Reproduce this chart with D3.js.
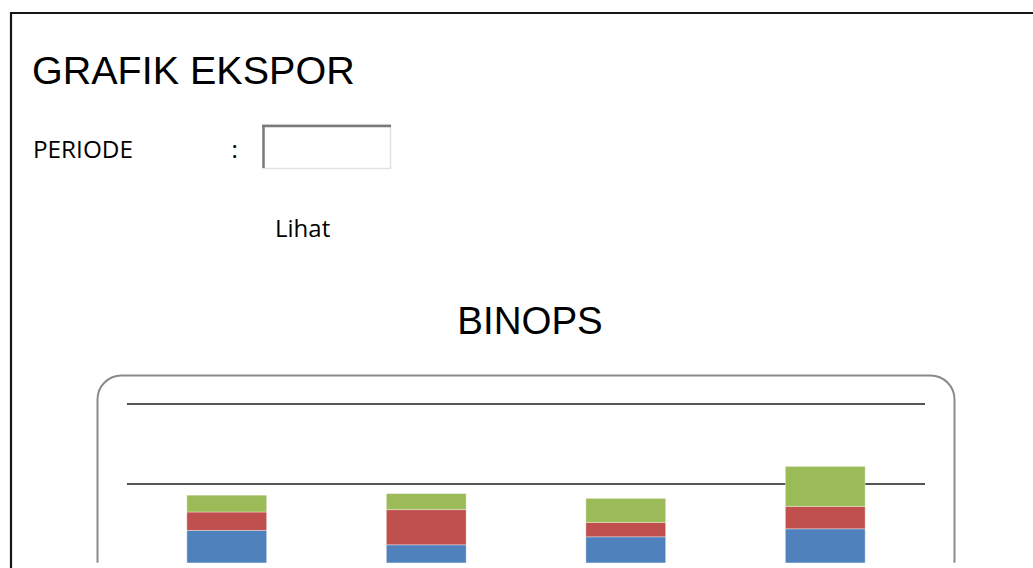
<!DOCTYPE html>
<html>
<head>
<meta charset="utf-8">
<script src="https://cdn.jsdelivr.net/npm/d3@7"></script>
<style>
  html, body { margin: 0; padding: 0; background: #fff; overflow: hidden; }
  svg { display: block; }
</style>
</head>
<body>
<script>
// Stacked export volumes per period (bottom to top: blue, red, green)
const categories = ["1", "2", "3", "4"];
const seriesNames = ["Seri 1", "Seri 2", "Seri 3"];
const seri1 = [142, 124, 134, 144];
const seri2 = [23, 44, 18, 28];
const seri3 = [21, 20, 30, 50];
const gridTicks = [0, 100, 200, 300];
const seriesColors = ["#4f81bd", "#c0504d", "#9bbb59"];

const W = 1033, H = 568;
const svg = d3.select("body").append("svg").attr("width", W).attr("height", H);

// Page frame
svg.append("line").attr("x1", 10).attr("x2", W).attr("y1", 13).attr("y2", 13)
  .attr("stroke", "#151515").attr("stroke-width", 2.2);
svg.append("line").attr("x1", 11).attr("x2", 11).attr("y1", 12).attr("y2", H)
  .attr("stroke", "#151515").attr("stroke-width", 2.2);

// Heading
svg.append("text").attr("x", 32).attr("y", 84)
  .attr("font-family", "Liberation Sans, Arial, sans-serif").attr("font-size", 39.5)
  .attr("fill", "#000").text("GRAFIK EKSPOR");

// Period form
svg.append("text").attr("x", 33).attr("y", 157.5)
  .attr("font-family", "Open Sans, sans-serif").attr("font-size", 24.3)
  .attr("fill", "#000").text("PERIODE");
svg.append("text").attr("x", 231.5).attr("y", 157.5)
  .attr("font-family", "Open Sans, sans-serif").attr("font-size", 24)
  .attr("fill", "#000").text(":");

const box = svg.append("g");
box.append("rect").attr("x", 262).attr("y", 124).attr("width", 129).attr("height", 45)
  .attr("fill", "#fff");
box.append("line").attr("x1", 262).attr("x2", 391).attr("y1", 124.5).attr("y2", 124.5)
  .attr("stroke", "#e3e3e3").attr("stroke-width", 1);
box.append("line").attr("x1", 390.5).attr("x2", 390.5).attr("y1", 124).attr("y2", 169)
  .attr("stroke", "#e3e3e3").attr("stroke-width", 1.5);
box.append("line").attr("x1", 262).attr("x2", 391).attr("y1", 168.5).attr("y2", 168.5)
  .attr("stroke", "#e3e3e3").attr("stroke-width", 1.5);
box.append("line").attr("x1", 262).attr("x2", 391).attr("y1", 126).attr("y2", 126)
  .attr("stroke", "#7a7a7a").attr("stroke-width", 2.5);
box.append("line").attr("x1", 263.5).attr("x2", 263.5).attr("y1", 125).attr("y2", 168)
  .attr("stroke", "#7a7a7a").attr("stroke-width", 2.5);

svg.append("text").attr("x", 275).attr("y", 236.5)
  .attr("font-family", "Open Sans, sans-serif").attr("font-size", 24)
  .attr("fill", "#000").text("Lihat");

// Chart title
svg.append("text").attr("x", 530).attr("y", 334).attr("text-anchor", "middle")
  .attr("font-family", "Liberation Sans, Arial, sans-serif").attr("font-size", 38.5)
  .attr("fill", "#000").text("BINOPS");

// Chart area, cut off at the bottom of the view
svg.append("defs").append("clipPath").attr("id", "chartClip")
  .append("rect").attr("x", 80).attr("y", 360).attr("width", 900).attr("height", 202.8);

const chart = svg.append("g").attr("clip-path", "url(#chartClip)");

chart.append("rect").attr("x", 97.5).attr("y", 375.5).attr("width", 857).attr("height", 400)
  .attr("rx", 24).attr("ry", 24)
  .attr("fill", "#fff").attr("stroke", "#8a8a8a").attr("stroke-width", 2);

const x = d3.scaleBand().domain(categories).range([127, 925])
  .paddingInner(0.6).paddingOuter(0.3);
const y = d3.scaleLinear().domain([0, 300]).range([644, 404]);

// Horizontal gridlines
chart.append("g").selectAll("line").data(gridTicks).join("line")
  .attr("x1", 127).attr("x2", 925)
  .attr("y1", d => y(d)).attr("y2", d => y(d))
  .attr("stroke", "#1c1c1c").attr("stroke-width", 1.6);

// Stacked bars
const rows = categories.map((c, i) => ({
  cat: c, [seriesNames[0]]: seri1[i], [seriesNames[1]]: seri2[i], [seriesNames[2]]: seri3[i]
}));
const stacked = d3.stack().keys(seriesNames)(rows);

chart.append("g").selectAll("g").data(stacked).join("g")
  .attr("fill", (d, i) => seriesColors[i])
  .selectAll("rect").data(d => d).join("rect")
  .attr("x", d => x(d.data.cat))
  .attr("width", x.bandwidth())
  .attr("y", d => y(d[1]))
  .attr("height", d => y(d[0]) - y(d[1]))
  .attr("stroke", "rgba(255,255,255,0.35)").attr("stroke-width", 1);
</script>
</body>
</html>
